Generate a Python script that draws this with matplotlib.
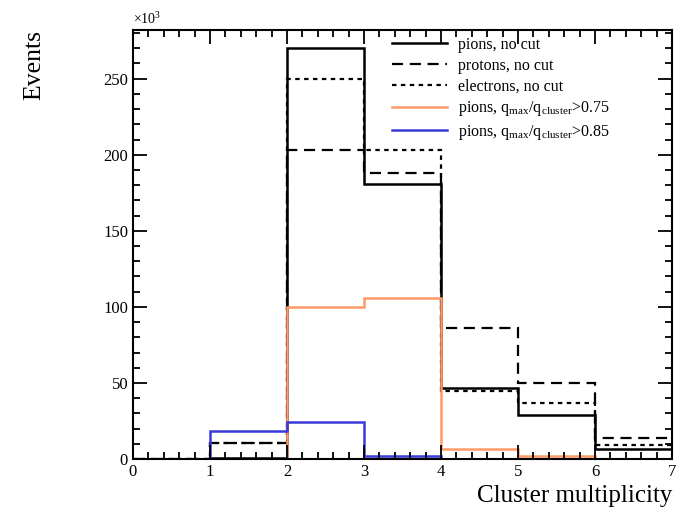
import numpy as np
import matplotlib.pyplot as plt
from matplotlib.ticker import MultipleLocator

plt.rcParams['font.family'] = ['Liberation Serif', 'DejaVu Serif']
plt.rcParams['mathtext.fontset'] = 'custom'
plt.rcParams['mathtext.rm'] = 'Liberation Serif'
plt.rcParams['mathtext.it'] = 'Liberation Serif:italic'

# bin edges for cluster multiplicity, counts in units of 10^3
edges = np.arange(0, 8)
pions = [0, 0.5, 270, 181, 47, 29, 6.5]
protons = [0, 10.5, 203, 188, 86, 50, 14]
electrons = [0, 10.5, 250, 203, 45, 37, 9]
pions_q075 = [0, 0, 100, 106, 6.5, 2, 0]
pions_q085 = [0, 18.5, 24.5, 2, 0, 0, 0]

fig = plt.figure(figsize=(6.83, 5.2), dpi=100)
ax = fig.add_axes([0.1947, 0.1173, 0.7893, 0.825])

ax.stairs(pions, edges, baseline=None, color='black', lw=1.8, label='pions, no cut')
ax.stairs(protons, edges, baseline=None, color='black', lw=1.6, ls=(0, (5, 3)), label='protons, no cut')
ax.stairs(electrons, edges, baseline=None, color='black', lw=1.6, ls=(0, (2, 2)), label='electrons, no cut')
ax.stairs(pions_q075, edges, baseline=None, color='#ff9966', lw=1.8,
          label=r'pions, q$_{\rm max}$/q$_{\rm cluster}$>0.75')
ax.stairs(pions_q085, edges, baseline=None, color='#3a3ad8', lw=1.8,
          label=r'pions, q$_{\rm max}$/q$_{\rm cluster}$>0.85')

ax.set_xlim(0, 7)
ax.set_ylim(0, 282)
ax.xaxis.set_major_locator(MultipleLocator(1))
ax.xaxis.set_minor_locator(MultipleLocator(0.2))
ax.yaxis.set_major_locator(MultipleLocator(50))
ax.yaxis.set_minor_locator(MultipleLocator(10))
ax.tick_params(which='both', direction='in', top=True, right=True, labelsize=12, width=1.3)
ax.tick_params(which='major', length=10)
ax.tick_params(which='minor', length=5)
for s in ax.spines.values():
    s.set_linewidth(1.5)

ax.set_xlabel('Cluster multiplicity', fontsize=18, loc='right')
ax.set_ylabel('Events', fontsize=18.5, loc='top', labelpad=42)
ax.text(0, 1.008, r'$\times$10$^{3}$', transform=ax.transAxes, fontsize=10, va='bottom')

ax.legend(loc='upper right', bbox_to_anchor=(0.905, 1.01), frameon=False, fontsize=11.5,
          handlelength=3.4, handletextpad=0.7, labelspacing=0.3, borderaxespad=0.3)

fig.savefig('out.png')
